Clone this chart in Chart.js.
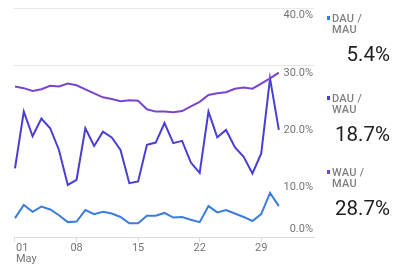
<!DOCTYPE html>
<html>
<head>
<meta charset="utf-8">
<script src="https://cdn.jsdelivr.net/npm/chart.js@4"></script>
<style>
  body { margin: 0; background: #fff; font-family: Roboto, "Noto Sans", sans-serif; }
  #wrap { position: relative; width: 394px; height: 265px; }
  #chart { position: absolute; left: 0; top: 0; }
  .leg { position: absolute; left: 327px; width: 63px; }
  .leg .name { position: relative; padding-left: 5px; font-size: 11px; line-height: 11px; color: #808080; font-weight: 500; letter-spacing: 0.3px; }
  .leg .sq { position: absolute; left: 0; top: 3px; width: 3px; height: 4px; }
  .leg .val { text-align: right; font-size: 20.5px; color: #212121; margin-top: 8px; line-height: 22px; }
</style>
</head>
<body>
<div id="wrap">
  <canvas id="chart" width="394" height="265"></canvas>
  <div id="legend"></div>
</div>
<script>
const days = Array.from({length: 31}, (v, i) => i + 1)
const dauMau = [3.3, 5.6, 4.4, 5.3, 4.8, 3.8, 2.6, 2.7, 4.7, 4.0, 4.4, 4.1, 3.5, 2.4, 2.4, 3.7,
    3.7, 4.2, 3.4, 3.5, 3.0, 2.6, 5.4, 4.3, 4.7, 4.1, 3.5, 2.8, 4.0, 7.7, 5.4]
const dauWau = [12.0, 21.9, 17.6, 20.7, 19.0, 15.2, 9.1, 10.0, 19.0, 15.9, 18.4, 17.4, 15.2, 9.4, 9.7, 16.1,
    16.5, 19.9, 16.4, 16.8, 13.0, 11.2, 21.9, 17.4, 18.7, 15.7, 14.0, 11.1, 14.6, 27.7, 18.7]
const wauMau = [26.3, 26.0, 25.5, 25.8, 26.4, 26.3, 26.8, 26.5, 25.8, 25.1, 24.4, 24.1, 23.7, 23.9, 23.8, 22.3,
    21.9, 21.9, 21.8, 22.0, 22.8, 23.6, 24.8, 25.1, 25.3, 25.9, 26.1, 25.9, 26.8, 27.7, 28.7]
const xTicks = [1, 8, 15, 22, 29]
const xTickLabels = ['01', '08', '15', '22', '29']
const monthLabel = 'May'
const yTicks = [0, 10, 20, 30, 40]
const yTickLabels = ['0.0%', '10.0%', '20.0%', '30.0%', '40.0%']
const seriesNames = [['DAU /', 'MAU'], ['DAU /', 'WAU'], ['WAU /', 'MAU']]
const seriesTotals = ['5.4%', '18.7%', '28.7%']
const seriesColors = ['#3b7ddb', '#4a3fd0', '#7a45cc']
const legendTops = [13, 93, 167]

const axisFont = '11px Roboto, "Noto Sans", sans-serif'
const axisColor = '#757575'

// legend on the right, plain html
const legend = document.getElementById('legend')
seriesNames.forEach(function (name, i) {
    const box = document.createElement('div')
    box.className = 'leg'
    box.style.top = legendTops[i] + 'px'
    box.innerHTML = `
    <div class="name"><span class="sq" style="background:${ seriesColors[i] }"></span>${ name[0] }<br>${ name[1] }</div>
    <div class="val">${ seriesTotals[i] }</div>`
    legend.appendChild(box)
})

// tick labels sit under their grid line (0% above the base line)
const tickText = {
    id: 'tickText',
    afterDraw(chart) {
        const ctx = chart.ctx
        const x = chart.scales.x
        const y = chart.scales.y
        const area = chart.chartArea
        ctx.save()
        ctx.font = axisFont
        ctx.fillStyle = axisColor
        ctx.textBaseline = 'middle'
        ctx.textAlign = 'right'
        yTicks.forEach(function (v, i) {
            const py = y.getPixelForValue(v)
            ctx.fillText(yTickLabels[i], area.right - 1, v === 0 ? py - 8 : py + 7.5)
        })
        xTicks.forEach(function (v, i) {
            const px = x.getPixelForValue(v)
            if (i === 0) {
                ctx.textAlign = 'left'
                ctx.fillText(xTickLabels[i], px + 1, area.bottom + 11)
                ctx.fillText(monthLabel, px + 1, area.bottom + 22)
            } else {
                ctx.textAlign = 'center'
                ctx.fillText(xTickLabels[i], px, area.bottom + 11)
            }
        })
        ctx.restore()
    }
}

const lineSet = (data, color) => ({
    data: days.map((d, i) => ({x: d, y: data[i]})),
    borderColor: color,
    borderWidth: 2,
    pointRadius: 0,
    tension: 0,
    fill: false
})

new Chart(document.getElementById('chart'), {
    type: 'line',
    data: {
        datasets: [
            lineSet(wauMau, seriesColors[2]),
            lineSet(dauWau, seriesColors[1]),
            lineSet(dauMau, seriesColors[0])
        ]
    },
    options: {
        responsive: false,
        animation: false,
        layout: {padding: {left: 14, top: 8, right: 80, bottom: 0}},
        plugins: {legend: {display: false}, tooltip: {enabled: false}},
        scales: {
            x: {
                type: 'linear',
                min: 1 - 1 / 8.8,
                max: 35,
                afterBuildTicks: s => { s.ticks = xTicks.map(v => ({value: v})) },
                afterFit: s => { s.height = 28 },
                ticks: {display: false},
                grid: {drawOnChartArea: false, drawTicks: true, tickLength: 5, color: '#dcdcdc'},
                border: {display: true, color: '#dcdcdc'}
            },
            y: {
                position: 'right',
                min: 0,
                max: 40,
                afterBuildTicks: s => { s.ticks = yTicks.map(v => ({value: v})) },
                afterFit: s => { s.width = 0 },
                ticks: {display: false},
                grid: {drawTicks: false, color: c => c.tick && c.tick.value >= 30 ? '#e8e8e8' : 'rgba(0,0,0,0)'},
                border: {display: false}
            }
        }
    },
    plugins: [tickText]
})
</script>
</body>
</html>
